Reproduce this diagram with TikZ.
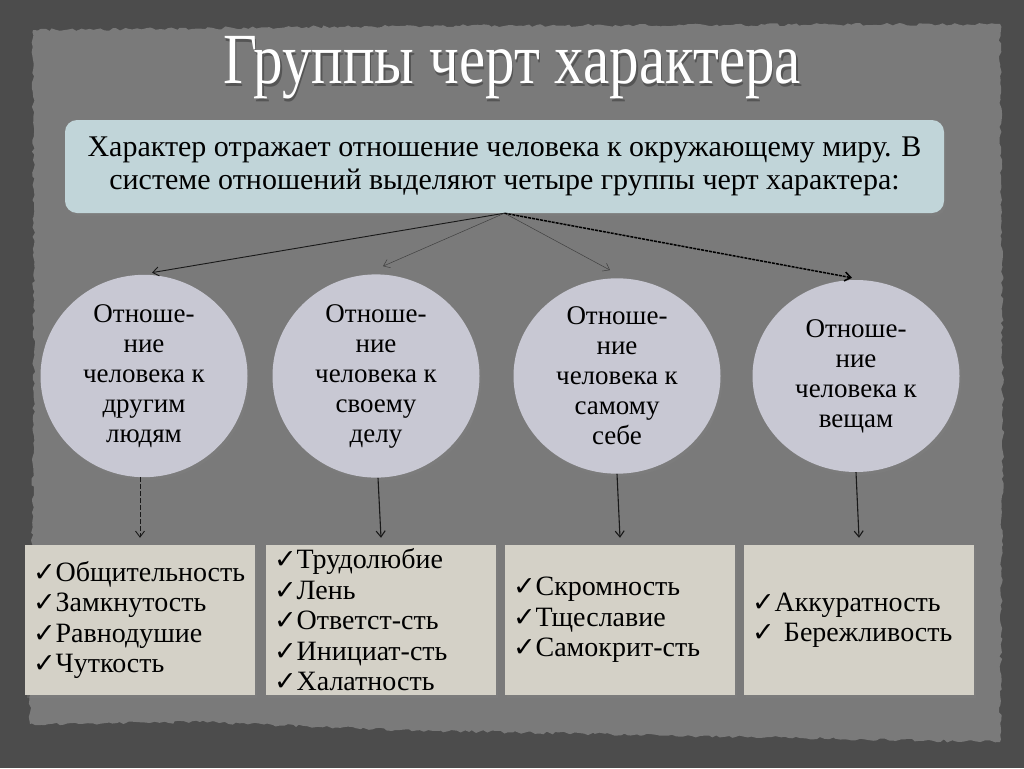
\documentclass[tikz,border=0pt]{standalone}
\usepackage{fontspec}
\setmainfont{Liberation Serif}
\newfontfamily\symfont{DejaVu Sans}
\usetikzlibrary{arrows.meta,shapes.geometric,decorations.pathmorphing,shadows,calc}
\definecolor{outerbg}{RGB}{76,76,76}
\definecolor{paper}{RGB}{122,122,122}
\definecolor{topfill}{RGB}{193,213,217}
\definecolor{circfill}{RGB}{200,200,211}
\definecolor{boxfill}{RGB}{212,209,199}
\newcommand{\ck}{{\symfont\fontsize{27}{27}\selectfont ✓}}
\newcommand{\titletext}{\scalebox{0.82}[1]{Группы черт характера}}
\begin{document}
\begin{tikzpicture}[x=1pt,y=-1pt,
  titlestyle/.style={text=white,font=\fontsize{72}{72}\selectfont,inner sep=0pt},
  topbox/.style={fill=topfill,rounded corners=12pt,minimum width=879pt,minimum height=93pt,align=center,
     font=\fontsize{30}{33}\selectfont,inner sep=0pt,drop shadow={shadow xshift=2pt,shadow yshift=-3pt,opacity=0.35}},
  circ/.style={ellipse,fill=circfill,minimum width=207pt,minimum height=192pt,inner sep=0pt,align=center,
     font=\fontsize{27}{30}\selectfont,drop shadow={shadow xshift=2pt,shadow yshift=-3pt,opacity=0.35}},
  listbox/.style={rectangle,fill=boxfill,minimum width=230pt,minimum height=150pt,text width=214pt,
     inner xsep=8pt,inner ysep=0pt,align=left,font=\fontsize{28}{30.5}\selectfont,
     drop shadow={shadow xshift=2pt,shadow yshift=-3pt,opacity=0.35}},
  arrowtip/.style={-{Straight Barb[length=6pt,width=9pt]}},
  thinarrow/.style={arrowtip,draw=black!75,line width=0.5pt},
  solidarrow/.style={arrowtip,draw=black!90,line width=0.9pt},
  heavyarrow/.style={arrowtip,draw=black,line width=1.5pt,dash pattern=on 3pt off 1pt},
  dasharrow/.style={arrowtip,draw=black!90,line width=0.9pt,dash pattern=on 5pt off 2pt},
  downarrow/.style={arrowtip,draw=black!90,line width=1.1pt}
]
\useasboundingbox (0,0) rectangle (1024,768);
\fill[outerbg] (0,0) rectangle (1024,768);
\fill[paper,decorate,decoration={random steps,segment length=4pt,amplitude=1.5pt}]
  (33,30) -- (400,26) -- (1000,24) -- (1003,420) -- (1000,742) -- (700,736) -- (400,730) -- (200,722) -- (30,724) -- (34,400) -- cycle;

\node[titlestyle,text=black,opacity=0.3] (titleshadow) at (513.5,70.5) {\titletext};
\node[titlestyle] (title) at (512,68) {\titletext};

\node[topbox] (top) at (504.5,166.5) {Характер отражает отношение человека к окружающему миру. В\\системе отношений выделяют четыре группы черт характера:};

\node[circ] (c1) at (144,376) {Отноше-\\ние\\человека к\\другим\\людям};
\node[circ] (c2) at (376,376) {Отноше-\\ние\\человека к\\своему\\делу};
\node[circ] (c3) at (617,376) {Отноше-\\ние\\человека к\\самому\\себе};
\node[circ] (c4) at (856,376) {Отноше-\\ние\\человека к\\вещам};

\node[listbox] (b1) at (140,620) {\ck Общительность\\\ck Замкнутость\\\ck Равнодушие\\\ck Чуткость};
\node[listbox] (b2) at (381,620) {\ck Трудолюбие\\\ck Лень\\\ck Ответст-сть\\\ck Инициат-сть\\\ck Халатность};
\node[listbox] (b3) at (620,620) {\ck Скромность\\\ck Тщеславие\\\ck Самокрит-сть};
\node[listbox] (b4) at (859,620) {\ck Аккуратность\\\ck\ Бережливость};

\draw[solidarrow] (top.south) -- ([xshift=8pt,yshift=2pt]c1.north);
\draw[thinarrow] (top.south) -- ([xshift=7pt,yshift=8pt]c2.north);
\draw[thinarrow] (top.south) -- ([xshift=-7pt,yshift=8pt]c3.north);
\draw[heavyarrow] (top.south) -- ([xshift=-4pt,yshift=2pt]c4.north);

\draw[dasharrow] (c1.south -| b1.north) -- ([yshift=7pt]b1.north);
\draw[downarrow] ([xshift=2pt]c2.south) -- ([yshift=7pt]b2.north);
\draw[downarrow] (c3.south) -- ([yshift=7pt]b3.north);
\draw[downarrow] (c4.south) -- ([yshift=7pt]b4.north);
\end{tikzpicture}
\end{document}
